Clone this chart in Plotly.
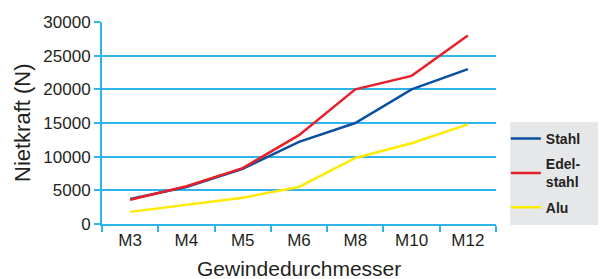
import plotly.graph_objects as go

categories = ["M3", "M4", "M5", "M6", "M8", "M10", "M12"]
stahl = [3700, 5500, 8200, 12200, 15000, 20000, 23000]
edelstahl = [3600, 5600, 8300, 13200, 20000, 22000, 28000]
alu = [1800, 2900, 3900, 5500, 9800, 12000, 14800]
y_ticks = [0, 5000, 10000, 15000, 20000, 25000, 30000]
y_labels = ["0", "5000", "10000", "15000", "20000", "25000", "30000"]

narrow = "Liberation Sans Narrow, Arial Narrow, Liberation Sans, Arial"
grid = "#2db4e8"
txt = "#231f20"

fig = go.Figure()
fig.add_trace(go.Scatter(x=categories, y=stahl, mode="lines", name="Stahl", legendgroup="a",
                         line=dict(color="#0a4fa0", width=2.5)))
fig.add_trace(go.Scatter(x=categories, y=edelstahl, mode="lines", name="Edel-<br>stahl", legendgroup="b",
                         line=dict(color="#e8202a", width=2.5)))
fig.add_trace(go.Scatter(x=categories, y=alu, mode="lines", name="Alu", legendgroup="c",
                         line=dict(color="#ffea00", width=2.5)))

fig.add_shape(type="rect", xref="paper", yref="paper",
              x0=1.036, x1=1.3, y0=-0.005, y1=0.505,
              fillcolor="#e6e7e8", line=dict(width=0), layer="below")

fig.add_annotation(text="Nietkraft (N)", xref="paper", yref="paper", x=0, y=0.5,
                   xshift=-80, textangle=-90, showarrow=False,
                   xanchor="center", yanchor="middle",
                   font=dict(family="Liberation Sans, Arial", size=22, color=txt))
fig.add_annotation(text="Gewindedurchmesser", xref="paper", yref="paper", x=0.5, y=0,
                   yshift=-44, showarrow=False, xanchor="center", yanchor="middle",
                   font=dict(family="Liberation Sans, Arial", size=21, color=txt))

fig.update_layout(
    width=598, height=271,
    margin=dict(l=94, r=110, t=14, b=55),
    paper_bgcolor="white", plot_bgcolor="white",
    showlegend=True,
    legend=dict(x=1.025, y=0.5, xanchor="left", yanchor="top",
                bgcolor="rgba(0,0,0,0)",
                font=dict(family=narrow, size=14, color=txt, weight="bold"),
                tracegroupgap=4, itemwidth=30),
    xaxis=dict(
        type="category", range=[-0.5, 6.5], automargin=False,
        tickson="boundaries", ticks="outside", ticklen=6, tickwidth=1.5, tickcolor=grid,
        showline=True, linecolor=grid, linewidth=2,
        showgrid=False, zeroline=False,
        tickfont=dict(family=narrow, size=17, color=txt),
    ),
    yaxis=dict(
        range=[0, 30000], tickvals=y_ticks, ticktext=y_labels, automargin=False,
        ticks="outside", ticklen=6, tickwidth=1.5, tickcolor=grid,
        showline=True, linecolor=grid, linewidth=2,
        showgrid=True, gridcolor=grid, gridwidth=1.5, zeroline=False,
        tickfont=dict(family=narrow, size=17, color=txt),
    ),
)

fig.write_html("out.html")
